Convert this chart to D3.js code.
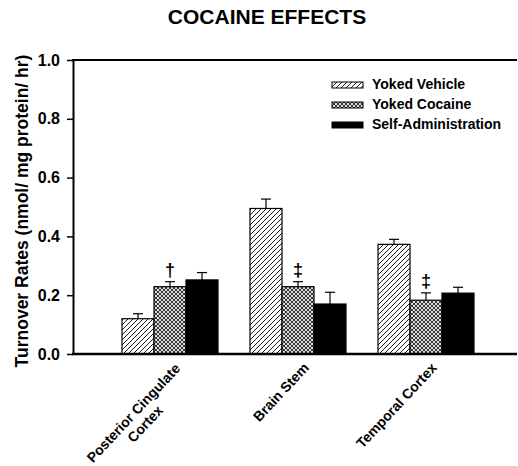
<!DOCTYPE html>
<head>
  <meta charset='utf-8'>
  <script src="https://d3js.org/d3.v7.min.js"></script>
  <style>
    body { margin: 0; background: #fff; }
    text { font-family: "Liberation Sans", Arial, sans-serif; font-weight: bold; fill: #000; }
  </style>
</head>
<body>
<div id="chart"></div>
<script type="text/javascript">

// chart values
var categories = ["Posterior Cingulate Cortex", "Brain Stem", "Temporal Cortex"];
var catLines = [["Posterior Cingulate", "Cortex"], ["Brain Stem"], ["Temporal Cortex"]];
var seriesNames = ["Yoked Vehicle", "Yoked Cocaine", "Self-Administration"];
var vehicle = [0.120, 0.495, 0.373];
var vehicleErr = [0.017, 0.032, 0.017];
var cocaine = [0.229, 0.229, 0.183];
var cocaineErr = [0.017, 0.017, 0.025];
var selfAdmin = [0.252, 0.170, 0.207];
var selfAdminErr = [0.025, 0.040, 0.020];
var yTicks = [0.0, 0.2, 0.4, 0.6, 0.8, 1.0];
var markCat = [0, 1, 2];
var markSeries = [1, 1, 1];
var markSym = ["\u2020", "\u2021", "\u2021"];

var values = [vehicle, cocaine, selfAdmin];
var errors = [vehicleErr, cocaineErr, selfAdminErr];
var fills = ["url(#hatch)", "url(#cross)", "#000"];

var svg = d3.select("#chart").append("svg")
    .attr("width", 518).attr("height", 466);

// patterns
var defs = svg.append("defs");
var hatch = defs.append("pattern").attr("id", "hatch")
    .attr("patternUnits", "userSpaceOnUse").attr("width", 5).attr("height", 5);
hatch.append("rect").attr("width", 5).attr("height", 5).attr("fill", "#fff");
hatch.append("path").attr("d", "M-1,1 l2,-2 M0,5 l5,-5 M4,6 l2,-2")
    .attr("stroke", "#000").attr("stroke-width", 0.9);

var cross = defs.append("pattern").attr("id", "cross")
    .attr("patternUnits", "userSpaceOnUse").attr("width", 4).attr("height", 4);
cross.append("rect").attr("width", 4).attr("height", 4).attr("fill", "#dcdcdc");
cross.append("path").attr("d", "M0,0 L4,4 M4,0 L0,4")
    .attr("stroke", "#000").attr("stroke-width", 0.75);

var plotL = 73, plotR = 517, plotT = 60, plotB = 354;

var y = d3.scaleLinear().domain([0, 1]).range([plotB, plotT]);
var x0 = d3.scaleBand().domain(categories).range([106, 490])
    .paddingInner(0.25).paddingOuter(0.125);
var x1 = d3.scaleBand().domain(seriesNames).range([0, x0.bandwidth()]);

// title
svg.append("text").attr("x", 267).attr("y", 24)
    .attr("text-anchor", "middle").attr("font-size", 21)
    .text("COCAINE EFFECTS");

// y axis
var yAxis = svg.append("g").attr("transform", "translate(" + plotL + ",0)")
    .call(d3.axisLeft(y).tickValues(yTicks).tickFormat(d3.format(".1f"))
        .tickSize(6).tickSizeOuter(0));
yAxis.select(".domain").attr("stroke-width", 2);
yAxis.selectAll(".tick line").attr("stroke-width", 1.5);
yAxis.selectAll(".tick text").attr("font-size", 16).attr("x", -13)
    .style("font-family", "'Liberation Sans', Arial, sans-serif").style("font-weight", "bold");

svg.append("text")
    .attr("transform", "translate(28,211) rotate(-90)")
    .attr("text-anchor", "middle").attr("font-size", 17.5)
    .text("Turnover Rates (nmol/ mg protein/ hr)");

// top frame line
svg.append("line").attr("x1", plotL - 1).attr("x2", plotR)
    .attr("y1", plotT).attr("y2", plotT).attr("stroke", "#000").attr("stroke-width", 2);

// bars
var groups = svg.selectAll(".grp").data(categories).enter().append("g")
    .attr("class", "grp")
    .attr("transform", function(d) { return "translate(" + x0(d) + ",0)"; });

groups.each(function(cat, ci) {
  var g = d3.select(this);
  seriesNames.forEach(function(s, si) {
    var v = values[si][ci], e = errors[si][ci];
    var cx = x1(s) + x1.bandwidth() / 2;
    g.append("line").attr("x1", cx).attr("x2", cx)
        .attr("y1", y(v)).attr("y2", y(v + e))
        .attr("stroke", "#000").attr("stroke-width", 1.2);
    g.append("line").attr("x1", cx - 5).attr("x2", cx + 5)
        .attr("y1", y(v + e)).attr("y2", y(v + e))
        .attr("stroke", "#000").attr("stroke-width", 1.2);
    g.append("rect").attr("x", x1(s)).attr("width", x1.bandwidth())
        .attr("y", y(v)).attr("height", y(0) - y(v))
        .attr("fill", fills[si]).attr("stroke", "#000").attr("stroke-width", 1.2);
  });
});

// significance marks
markCat.forEach(function(ci, i) {
  var si = markSeries[i];
  var v = values[si][ci] + errors[si][ci];
  svg.append("text")
      .attr("x", x0(categories[ci]) + x1(seriesNames[si]) + x1.bandwidth() / 2)
      .attr("y", y(v) - 6)
      .attr("text-anchor", "middle").attr("font-size", 18)
      .text(markSym[i]);
});

// x axis line
svg.append("line").attr("x1", plotL - 1).attr("x2", plotR)
    .attr("y1", plotB).attr("y2", plotB).attr("stroke", "#000").attr("stroke-width", 2.5);

// category labels, rotated
categories.forEach(function(cat, ci) {
  var lines = catLines[ci];
  var cx = x0(cat) + x0.bandwidth() / 2;
  var g = svg.append("g")
      .attr("transform", "translate(" + (cx + 8) + ",365) rotate(-47)");
  var t = lines.map(function(l) {
    return g.append("text").attr("font-size", 14).attr("text-anchor", "middle").text(l);
  });
  var maxLen = d3.max(t, function(n) { return n.node().getComputedTextLength(); });
  t.forEach(function(n, i) {
    n.attr("x", -maxLen / 2 - (lines.length > 1 ? 1 : 0))
     .attr("y", i * 16 + 5);
  });
});

// legend
var legend = svg.append("g").attr("transform", "translate(332,82)");
seriesNames.forEach(function(s, i) {
  legend.append("rect").attr("x", 0).attr("y", i * 20).attr("width", 31).attr("height", 6)
      .attr("fill", fills[i]).attr("stroke", "#000").attr("stroke-width", 1);
  legend.append("text").attr("x", 40).attr("y", i * 20 + 7)
      .attr("font-size", 14).text(s);
});

</script>
</body>
